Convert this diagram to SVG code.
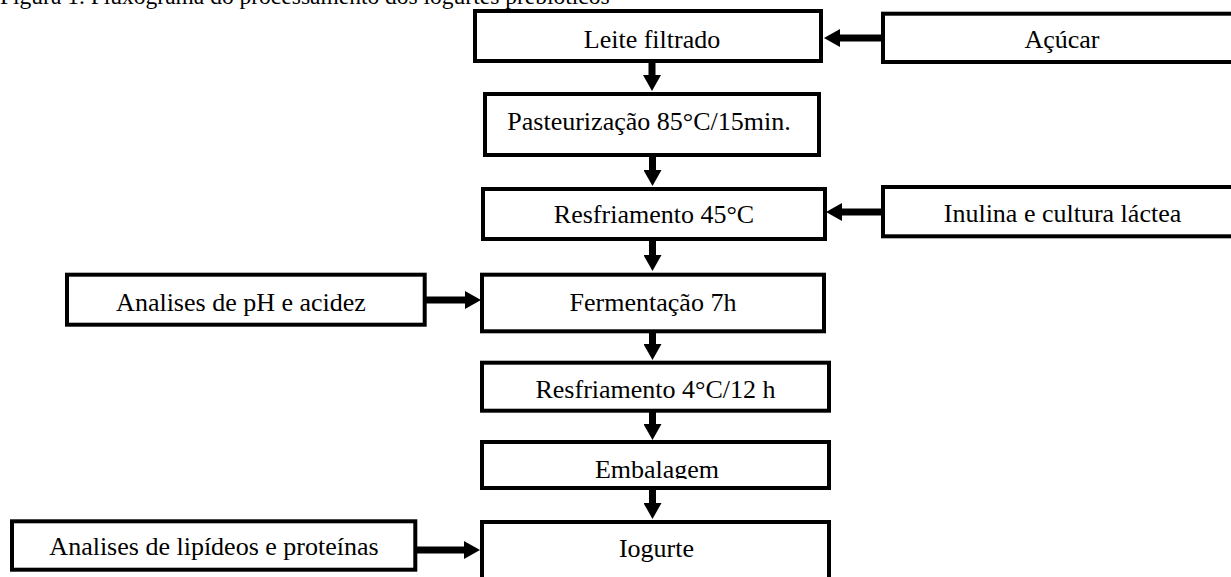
<svg xmlns="http://www.w3.org/2000/svg" width="1231" height="577" viewBox="0 0 1231 577">
<style>
.box{fill:#fff;stroke:#000;stroke-width:4}
.t{font-family:"Liberation Serif","Times New Roman",serif;font-size:26px;fill:#000;text-anchor:middle}
.title{font-family:"Liberation Serif","Times New Roman",serif;font-size:23.5px;fill:#000}
.c{stroke:#000;stroke-width:7;fill:none}
</style>
<defs>
<marker id="ah" markerUnits="userSpaceOnUse" markerWidth="16" markerHeight="18" refX="6" refY="9" orient="auto">
<path d="M0,0 L16,9 L0,18 z" fill="#000"/>
</marker>
<clipPath id="embclip"><rect x="480" y="440" width="352" height="39"/></clipPath>
</defs>
<rect width="1231" height="577" fill="#fff"/>
<text class="title" x="0" y="4">Figura 1. Fluxograma do processamento dos iogurtes prebióticos</text>

<g id="connectors">
<line class="c" x1="881" y1="38" x2="834" y2="38" marker-end="url(#ah)"/>
<line class="c" x1="652" y1="63" x2="652" y2="81" marker-end="url(#ah)"/>
<line class="c" x1="652.5" y1="156" x2="652.5" y2="176" marker-end="url(#ah)"/>
<line class="c" x1="881" y1="212" x2="836" y2="212" marker-end="url(#ah)"/>
<line class="c" x1="652.5" y1="240" x2="652.5" y2="261" marker-end="url(#ah)"/>
<line class="c" x1="426" y1="300" x2="471" y2="300" marker-end="url(#ah)"/>
<line class="c" x1="652.5" y1="333" x2="652.5" y2="350" marker-end="url(#ah)"/>
<line class="c" x1="652.5" y1="412" x2="652.5" y2="430" marker-end="url(#ah)"/>
<line class="c" x1="652.5" y1="490" x2="652.5" y2="509" marker-end="url(#ah)"/>
<line class="c" x1="417" y1="550" x2="470" y2="550" marker-end="url(#ah)"/>
</g>

<g id="leite"><rect class="box" x="475" y="11" width="346" height="50"/><text class="t" x="652" y="48">Leite filtrado</text></g>
<g id="acucar"><rect class="box" x="883" y="13.7" width="360" height="48.3"/><text class="t" x="1062" y="48">Açúcar</text></g>
<g id="pasteurizacao"><rect class="box" x="485" y="94" width="334" height="61"/><text class="t" x="649" y="130">Pasteurização 85°C/15min.</text></g>
<g id="resfriamento45"><rect class="box" x="483" y="189" width="342" height="50"/><text class="t" x="654" y="223">Resfriamento 45°C</text></g>
<g id="inulina"><rect class="box" x="883" y="187" width="360" height="49.3"/><text class="t" x="1062.5" y="221.5">Inulina e cultura láctea</text></g>
<g id="fermentacao"><rect class="box" x="482" y="274.7" width="342" height="56.6"/><text class="t" x="653" y="311">Fermentação 7h</text></g>
<g id="analises-ph"><rect class="box" x="67" y="274.7" width="357.7" height="50"/><text class="t" x="241" y="311">Analises de pH e acidez</text></g>
<g id="resfriamento4"><rect class="box" x="482" y="362.7" width="347" height="48"/><text class="t" x="655.5" y="398">Resfriamento 4°C/12 h</text></g>
<g id="embalagem"><rect class="box" x="482" y="442" width="347" height="46"/><text class="t" x="657" y="477.5" clip-path="url(#embclip)">Embalagem</text></g>
<g id="iogurte"><rect class="box" x="482" y="522" width="347" height="80"/><text class="t" x="656.5" y="556.5">Iogurte</text></g>
<g id="analises-lipideos"><rect class="box" x="12" y="521.3" width="403.3" height="48.4"/><text class="t" x="214" y="555">Analises de lipídeos e proteínas</text></g>
</svg>
